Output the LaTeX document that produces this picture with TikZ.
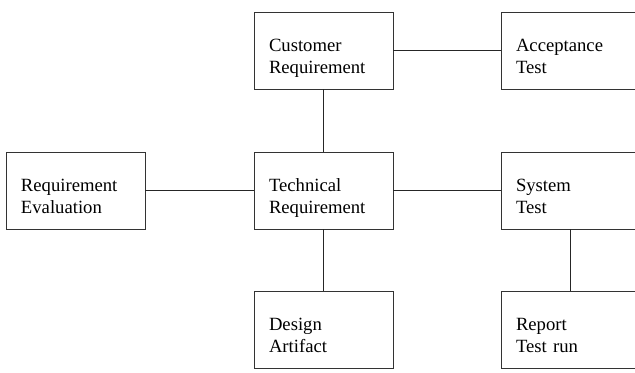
\documentclass[tikz,border=0pt]{standalone}
\usepackage{fontspec}
\setmainfont{Liberation Serif}
\usepackage{tikz}

\tikzset{
	box/.style={draw=black!80, line width=0.7pt, rectangle, minimum width=104.25pt, minimum height=57.75pt,
		text width=81.75pt, inner xsep=11.25pt, inner ysep=0pt, align=left,
		font=\fontsize{14}{16.5}\selectfont,
		execute at begin node=\rule{0pt}{21.5pt},
		execute at end node=\rule[-4pt]{0pt}{4pt}},
	link/.style={draw=black!85, line width=0.7pt}
}

\begin{document}
\begin{tikzpicture}[x=0.75pt, y=-0.75pt]
\useasboundingbox (0,0) rectangle (635,372);
\node[box] (cust) at (323.5,50.5) {Customer\\Requirement};
\node[box] (accept) at (570.5,50.5) {Acceptance\\Test};
\node[box] (eval) at (75.5,190.5) {Requirement\\Evaluation};
\node[box] (tech) at (323.5,190.5) {Technical\\Requirement};
\node[box] (sys) at (570.5,190.5) {System\\Test};
\node[box] (design) at (323.5,329.5) {Design\\Artifact};
\node[box] (report) at (570.5,329.5) {Report\\Test run};
\foreach \a/\b in {cust/accept, cust/tech, eval/tech, tech/sys, tech/design, sys/report}
{
	\draw[link] (\a) -- (\b);
}
\end{tikzpicture}
\end{document}
